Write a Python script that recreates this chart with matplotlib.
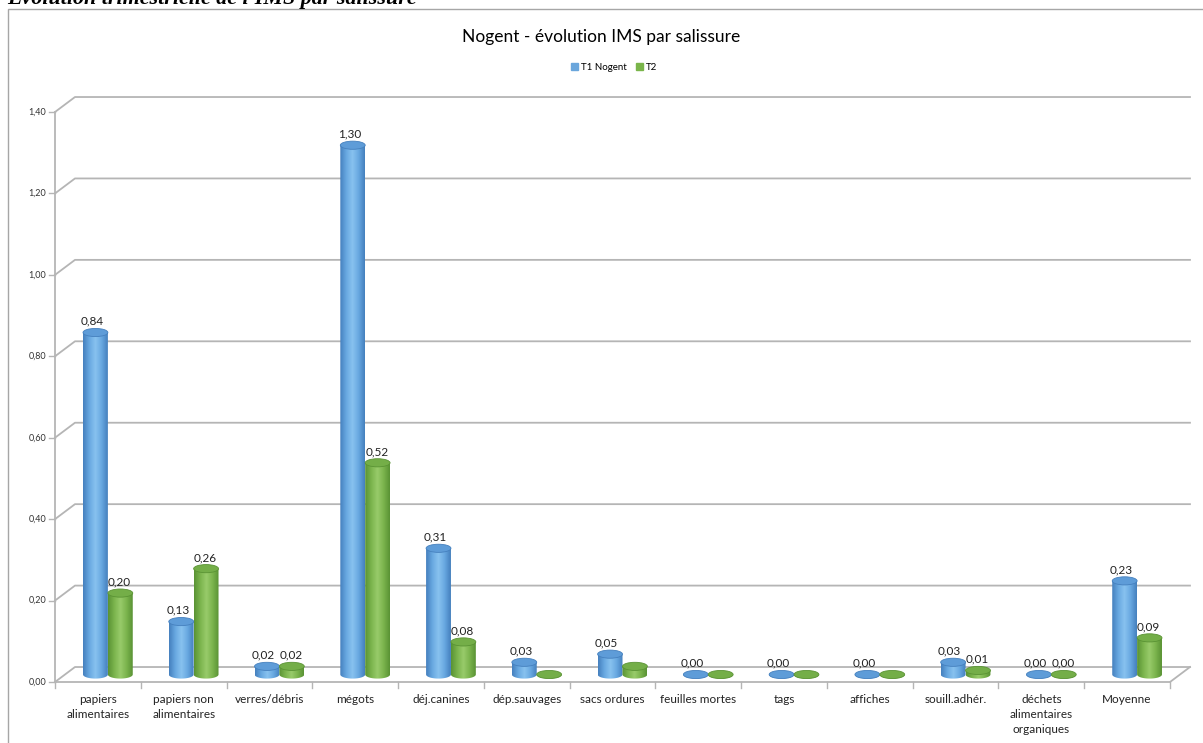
"""Nogent - IMS evolution per dirt type, Excel-like cylinder chart."""

import matplotlib.pyplot as plt
import numpy as np
from matplotlib.colors import LinearSegmentedColormap
from matplotlib.patches import Ellipse, PathPatch, Patch, Rectangle
from matplotlib.path import Path

plt.rcParams["font.family"] = ["Lato", "DejaVu Sans"]

CATEGORIES = [
    "papiers\nalimentaires",
    "papiers non\nalimentaires",
    "verres/débris",
    "mégots",
    "déj.canines",
    "dép.sauvages",
    "sacs ordures",
    "feuilles mortes",
    "tags",
    "affiches",
    "souill.adhér.",
    "déchets\nalimentaires\norganiques",
    "Moyenne",
]
T1_VALUES = [0.84, 0.13, 0.02, 1.30, 0.31, 0.03, 0.05, 0.00, 0.00, 0.00, 0.03, 0.00, 0.23]
T2_VALUES = [0.20, 0.26, 0.02, 0.52, 0.08, 0.00, 0.02, 0.00, 0.00, 0.00, 0.01, 0.00, 0.09]
T1_SHOW_LABEL = [True] * 13
T2_SHOW_LABEL = [True, True, True, True, True, False, False, False, False, False, True, True, True]
SERIES_NAMES = ["T1 Nogent", "T2"]
Y_TICKS = [0.0, 0.2, 0.4, 0.6, 0.8, 1.0, 1.2, 1.4]

BLUE = ["#4580BE", "#68A8E1", "#88C2EF", "#68A8E1", "#4580BE"]
GREEN = ["#5A9334", "#7BB44D", "#98CB6A", "#7BB44D", "#5A9334"]
GRID = "#B5B5B5"

# 3D depth offset (category units / value units)
DDX = 0.233
DDY = 0.0368
BAR_W = 0.29
ELL_H = 0.02


def fmt(v):
    return f"{v:.2f}".replace(".", ",")


def cylinder(ax, xc, base, height, colors, top_color):
    left, right = xc - BAR_W / 2, xc + BAR_W / 2
    theta = np.linspace(np.pi, 2 * np.pi, 40)
    arc = np.column_stack([xc + BAR_W / 2 * np.cos(theta), base + ELL_H / 2 * np.sin(theta)])
    verts = np.vstack([arc, [[right, base + height], [left, base + height], arc[0]]])
    codes = [Path.MOVETO] + [Path.LINETO] * (len(verts) - 2) + [Path.CLOSEPOLY]
    clip = PathPatch(Path(verts, codes), transform=ax.transData, facecolor="none", edgecolor="none")
    ax.add_patch(clip)
    cmap = LinearSegmentedColormap.from_list("cyl", colors)
    grad = np.linspace(0, 1, 64).reshape(1, -1)
    im = ax.imshow(
        grad,
        cmap=cmap,
        extent=(left, right, base - ELL_H / 2, base + height),
        aspect="auto",
        interpolation="bilinear",
        zorder=3,
    )
    im.set_clip_path(clip)
    ax.add_patch(
        Ellipse(
            (xc, base + height),
            BAR_W,
            ELL_H,
            facecolor=top_color,
            edgecolor=colors[0],
            lw=0.6,
            zorder=4,
        )
    )


fig = plt.figure(figsize=(12.03, 7.43), dpi=100)
ax = fig.add_axes([55 / 1203, 61 / 743, 1115 / 1203, 570 / 743])
ax.set_xlim(-0.5, 12.5)
ax.set_ylim(0, 1.4)
ax.axis("off")

n = len(CATEGORIES)
x0, x1 = -0.5, n - 0.5

# back wall gridlines with depth edges
for v in Y_TICKS:
    ax.plot([x0, x0 + DDX, x1 + DDX], [v, v + DDY, v + DDY], color=GRID, lw=1.3, clip_on=False, zorder=1)
    ax.plot([x0 - 0.07, x0], [v, v], color=GRID, lw=1.0, clip_on=False)
    ax.text(x0 - 0.1, v, fmt(v), ha="right", va="center", fontsize=6.5, color="#333333")

# front axis and floor
ax.plot([x0, x0], [0, 1.4], color=GRID, lw=1.3, clip_on=False, zorder=1)
ax.plot([x0, x1, x1 + DDX], [0, 0, DDY], color=GRID, lw=1.3, clip_on=False, zorder=1)
for k in range(n + 1):
    ax.plot([x0 + k, x0 + k], [0, -0.014], color=GRID, lw=1.0, clip_on=False)

for i, label in enumerate(CATEGORIES):
    ax.text(i, -0.03, label, ha="center", va="top", fontsize=8.5, linespacing=1.45, color="#222222")

base = DDY / 2
for i in range(n):
    xb = i + DDX / 2 - BAR_W / 2
    xg = i + DDX / 2 + BAR_W / 2
    cylinder(ax, xb, base, T1_VALUES[i], BLUE, "#5E9CD8")
    cylinder(ax, xg, base, T2_VALUES[i], GREEN, "#74AE48")
    if T1_SHOW_LABEL[i]:
        ax.text(xb - 0.04, base + T1_VALUES[i] + ELL_H / 2 + 0.004, fmt(T1_VALUES[i]),
                ha="center", va="bottom", fontsize=8.5, color="#222222", zorder=5)
    if T2_SHOW_LABEL[i]:
        ax.text(xg - 0.01, base + T2_VALUES[i] + ELL_H / 2 + 0.004, fmt(T2_VALUES[i]),
                ha="center", va="bottom", fontsize=8.5, color="#222222", zorder=5)

ax.set_xlim(-0.5, 12.5)
ax.set_ylim(0, 1.4)

# chart frame and headings
fig.patches.append(
    Rectangle((8 / 1203, -0.05), 1.1, 1 - 9 / 743 + 0.05, transform=fig.transFigure,
              facecolor="none", edgecolor="#A6A6A6", lw=1.0)
)
fig.text(7 / 1203, 1 - 4 / 743, "Évolution trimestrielle de l'IMS par salissure",
         family=["Liberation Serif", "DejaVu Serif"], fontsize=15.8, fontweight="bold",
         fontstyle="italic", va="baseline", ha="left")
fig.text(0.5, 1 - 37 / 743, "Nogent - évolution IMS par salissure", ha="center", va="center", fontsize=12.5)

handles = [Patch(color="#6AA6DC", label=SERIES_NAMES[0]), Patch(color="#7AB54A", label=SERIES_NAMES[1])]
fig.legend(handles=handles, loc="center", bbox_to_anchor=(614 / 1203, 1 - 67 / 743), ncol=2,
           frameon=False, fontsize=7, handlelength=0.7, handleheight=0.7, handletextpad=0.3,
           columnspacing=1.0)

fig.savefig("out.png", dpi=100)
